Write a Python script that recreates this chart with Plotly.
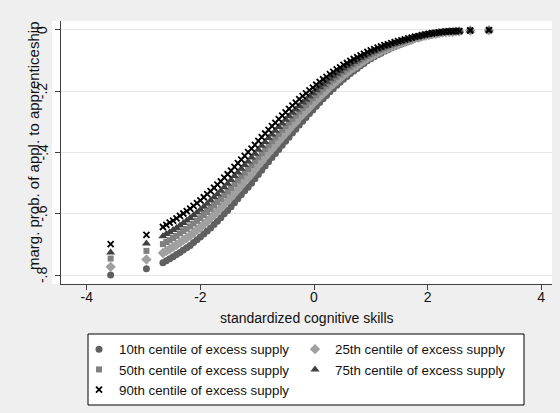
import plotly.graph_objects as go

# ---- data ----
skills = [-3.58, -2.95,
          -2.66, -2.60, -2.54, -2.48, -2.42, -2.36, -2.30, -2.24, -2.18, -2.12,
          -2.06, -2.00, -1.94, -1.88, -1.82, -1.76, -1.70, -1.64, -1.58, -1.52,
          -1.46, -1.40, -1.34, -1.28, -1.22, -1.16, -1.10, -1.04, -0.98, -0.92,
          -0.86, -0.80, -0.74, -0.68, -0.62, -0.56, -0.50, -0.44, -0.38, -0.32,
          -0.26, -0.20, -0.14, -0.08, -0.02, 0.04, 0.10, 0.16, 0.22, 0.28,
          0.34, 0.40, 0.46, 0.52, 0.58, 0.64, 0.70, 0.76, 0.82, 0.88,
          0.94, 1.00, 1.06, 1.12, 1.18, 1.24, 1.30, 1.36, 1.42, 1.48,
          1.54, 1.60, 1.66, 1.72, 1.78, 1.84, 1.90, 1.96, 2.02, 2.08,
          2.14, 2.20, 2.26, 2.32, 2.38, 2.44, 2.50, 2.56,
          2.75, 3.08]

p90 = [-0.699, -0.669,
       -0.643, -0.636, -0.629, -0.622, -0.615, -0.607, -0.599, -0.591, -0.583, -0.574,
       -0.565, -0.556, -0.546, -0.536, -0.526, -0.515, -0.505, -0.494, -0.482, -0.471,
       -0.459, -0.447, -0.435, -0.423, -0.411, -0.399, -0.387, -0.375, -0.362, -0.350,
       -0.338, -0.326, -0.314, -0.303, -0.291, -0.280, -0.269, -0.258, -0.247, -0.237,
       -0.226, -0.216, -0.207, -0.197, -0.188, -0.179, -0.170, -0.161, -0.153, -0.144,
       -0.137, -0.129, -0.122, -0.114, -0.108, -0.101, -0.095, -0.089, -0.083, -0.078,
       -0.072, -0.067, -0.063, -0.058, -0.054, -0.050, -0.047, -0.043, -0.040, -0.037,
       -0.034, -0.031, -0.028, -0.025, -0.022, -0.020, -0.017, -0.015, -0.013, -0.011,
       -0.010, -0.008, -0.007, -0.006, -0.005, -0.005, -0.004, -0.004,
       -0.002, -0.001]

p75 = [-0.726, -0.697,
       -0.673, -0.666, -0.660, -0.653, -0.646, -0.638, -0.630, -0.622, -0.614, -0.605,
       -0.596, -0.587, -0.577, -0.567, -0.557, -0.546, -0.536, -0.525, -0.513, -0.502,
       -0.490, -0.477, -0.465, -0.453, -0.441, -0.429, -0.416, -0.404, -0.391, -0.378,
       -0.366, -0.353, -0.341, -0.329, -0.317, -0.305, -0.293, -0.282, -0.270, -0.260,
       -0.248, -0.237, -0.228, -0.217, -0.207, -0.197, -0.187, -0.178, -0.169, -0.159,
       -0.151, -0.143, -0.135, -0.126, -0.119, -0.112, -0.105, -0.099, -0.092, -0.086,
       -0.080, -0.074, -0.070, -0.064, -0.060, -0.055, -0.052, -0.047, -0.044, -0.040,
       -0.037, -0.034, -0.031, -0.027, -0.024, -0.022, -0.019, -0.016, -0.014, -0.012,
       -0.011, -0.009, -0.008, -0.007, -0.006, -0.006, -0.004, -0.004,
       -0.002, -0.001]

p50 = [-0.746, -0.721,
       -0.699, -0.692, -0.686, -0.679, -0.672, -0.664, -0.656, -0.649, -0.641, -0.632,
       -0.623, -0.614, -0.604, -0.594, -0.584, -0.573, -0.562, -0.551, -0.539, -0.528,
       -0.516, -0.503, -0.491, -0.478, -0.466, -0.454, -0.441, -0.428, -0.415, -0.402,
       -0.389, -0.376, -0.363, -0.351, -0.339, -0.326, -0.314, -0.302, -0.290, -0.279,
       -0.266, -0.255, -0.245, -0.234, -0.223, -0.213, -0.202, -0.192, -0.182, -0.172,
       -0.163, -0.154, -0.146, -0.137, -0.129, -0.121, -0.114, -0.107, -0.099, -0.093,
       -0.086, -0.080, -0.075, -0.069, -0.065, -0.060, -0.056, -0.051, -0.047, -0.043,
       -0.040, -0.036, -0.033, -0.029, -0.025, -0.023, -0.020, -0.017, -0.015, -0.013,
       -0.012, -0.009, -0.008, -0.007, -0.006, -0.006, -0.005, -0.005,
       -0.002, -0.001]

p25 = [-0.773, -0.749,
       -0.728, -0.721, -0.715, -0.708, -0.701, -0.694, -0.686, -0.679, -0.671, -0.662,
       -0.653, -0.644, -0.634, -0.624, -0.614, -0.603, -0.592, -0.581, -0.568, -0.557,
       -0.545, -0.532, -0.520, -0.507, -0.494, -0.482, -0.470, -0.456, -0.442, -0.429,
       -0.415, -0.402, -0.389, -0.376, -0.363, -0.350, -0.338, -0.325, -0.312, -0.301,
       -0.287, -0.276, -0.265, -0.253, -0.241, -0.230, -0.219, -0.208, -0.198, -0.186,
       -0.177, -0.167, -0.158, -0.148, -0.140, -0.131, -0.124, -0.116, -0.108, -0.101,
       -0.093, -0.087, -0.081, -0.075, -0.070, -0.065, -0.060, -0.055, -0.051, -0.047,
       -0.043, -0.039, -0.035, -0.032, -0.027, -0.025, -0.021, -0.019, -0.017, -0.014,
       -0.013, -0.010, -0.009, -0.008, -0.007, -0.007, -0.005, -0.005,
       -0.002, -0.001]

p10 = [-0.800, -0.779,
       -0.760, -0.753, -0.747, -0.740, -0.733, -0.726, -0.718, -0.711, -0.703, -0.694,
       -0.685, -0.676, -0.666, -0.656, -0.646, -0.635, -0.624, -0.613, -0.600, -0.589,
       -0.577, -0.564, -0.551, -0.538, -0.525, -0.513, -0.500, -0.486, -0.472, -0.458,
       -0.444, -0.430, -0.416, -0.403, -0.390, -0.376, -0.363, -0.350, -0.336, -0.324,
       -0.310, -0.298, -0.286, -0.273, -0.261, -0.249, -0.237, -0.225, -0.214, -0.202,
       -0.192, -0.181, -0.171, -0.161, -0.152, -0.142, -0.134, -0.126, -0.117, -0.110,
       -0.101, -0.094, -0.088, -0.081, -0.076, -0.070, -0.065, -0.059, -0.055, -0.050,
       -0.046, -0.042, -0.038, -0.034, -0.029, -0.027, -0.023, -0.020, -0.018, -0.015,
       -0.014, -0.011, -0.010, -0.008, -0.007, -0.007, -0.005, -0.005,
       -0.003, -0.002]

series_names = ["10th centile of excess supply", "25th centile of excess supply",
                "50th centile of excess supply", "75th centile of excess supply",
                "90th centile of excess supply"]
series_values = [p10, p25, p50, p75, p90]
x_ticks = [-4, -2, 0, 2, 4]
x_tick_labels = ["-4", "-2", "0", "2", "4"]
y_ticks = [0, -0.2, -0.4, -0.6, -0.8]
y_tick_labels = ["0", "-.2", "-.4", "-.6", "-.8"]
x_title = "standardized cognitive skills"
y_title = "marg. prob. of appl. to apprenticeship"

styles = [
    dict(symbol="circle", size=7, color="#606060"),
    dict(symbol="diamond", size=8, color="#a0a0a0"),
    dict(symbol="square", size=6, color="#808080"),
    dict(symbol="triangle-up", size=8, color="#404040"),
    dict(symbol="x-thin", size=6, color="#000000"),
]

FONT = "Liberation Sans, Arial, Helvetica, sans-serif"
TXT = "#111111"

fig = go.Figure()
for name, vals, st in zip(series_names, series_values, styles):
    if st["symbol"] == "x-thin":
        marker = dict(symbol="x-thin", size=st["size"],
                      line=dict(color=st["color"], width=1.8), color=st["color"])
    else:
        marker = dict(symbol=st["symbol"], size=st["size"], color=st["color"],
                      line=dict(width=0))
    fig.add_trace(go.Scatter(x=skills, y=vals, mode="markers", name=name,
                             marker=marker))

W, H = 560, 413
L, R, T, B = 61, 8, 21, 129
plot_w = W - L - R
plot_h = H - T - B


def px_x(p):
    return (p - L) / plot_w


def px_y(p):
    return (H - B - p) / plot_h


annotations = [
    dict(text=x_title, xref="paper", yref="paper", x=0.5, y=px_y(318),
         xanchor="center", yanchor="middle", showarrow=False,
         font=dict(size=14, family=FONT, color=TXT)),
    dict(text=y_title, xref="paper", yref="paper", x=px_x(33), y=px_y(146),
         xanchor="center", yanchor="middle", textangle=-90, showarrow=False,
         font=dict(size=15, family=FONT, color=TXT)),
]
# rotated y tick labels placed on the y scale (Stata style)
for v, lab in zip(y_ticks, y_tick_labels):
    annotations.append(dict(text=lab, xref="paper", yref="y", x=px_x(42), y=v,
                            xanchor="center", yanchor="middle", textangle=-90,
                            showarrow=False, font=dict(size=14, family=FONT, color=TXT)))

fig.update_layout(
    width=W, height=H,
    margin=dict(l=L, r=R, t=T, b=B, pad=0, autoexpand=False),
    paper_bgcolor="#efefef",
    plot_bgcolor="#ffffff",
    font=dict(family=FONT, size=14, color=TXT),
    showlegend=True,
    legend=dict(
        orientation="h", x=px_x(79), xanchor="left", y=px_y(334), yanchor="top",
        bgcolor="rgba(0,0,0,0)", borderwidth=0,
        font=dict(family=FONT, size=13.3, color=TXT),
        entrywidth=171, entrywidthmode="pixels", itemsizing="trace",
        traceorder="normal", tracegroupgap=0,
    ),
    shapes=[
        dict(type="rect", xref="paper", yref="paper",
             x0=px_x(52), x1=1, y0=0, y1=1,
             fillcolor="#ffffff", line=dict(width=0), layer="below"),
        dict(type="rect", xref="paper", yref="paper",
             x0=px_x(88), x1=px_x(524), y0=px_y(405), y1=px_y(334),
             fillcolor="#ffffff", line=dict(width=1, color="#000000"), layer="below"),
    ],
    annotations=annotations,
    xaxis=dict(
        range=[-4.454, 4.19], tickmode="array", tickvals=x_ticks, ticktext=x_tick_labels,
        showgrid=False, zeroline=False, showline=True, linecolor="#404040", linewidth=1,
        ticks="outside", ticklen=5, tickcolor="#404040", tickwidth=1,
        tickfont=dict(size=14), mirror=False, automargin=False,
        ticklabelstandoff=-5,
    ),
    yaxis=dict(
        range=[-0.829, 0.029], tickmode="array", tickvals=y_ticks, ticktext=y_tick_labels,
        showgrid=True, gridcolor="#e6e6e6", gridwidth=1, zeroline=False,
        showline=True, linecolor="#404040", linewidth=1,
        ticks="outside", ticklen=5, tickcolor="#404040", tickwidth=1,
        showticklabels=False, automargin=False,
    ),
)

fig.write_html("out.html", config={"displayModeBar": False},
               post_script="document.body.style.margin='0';document.body.style.padding='0';")
